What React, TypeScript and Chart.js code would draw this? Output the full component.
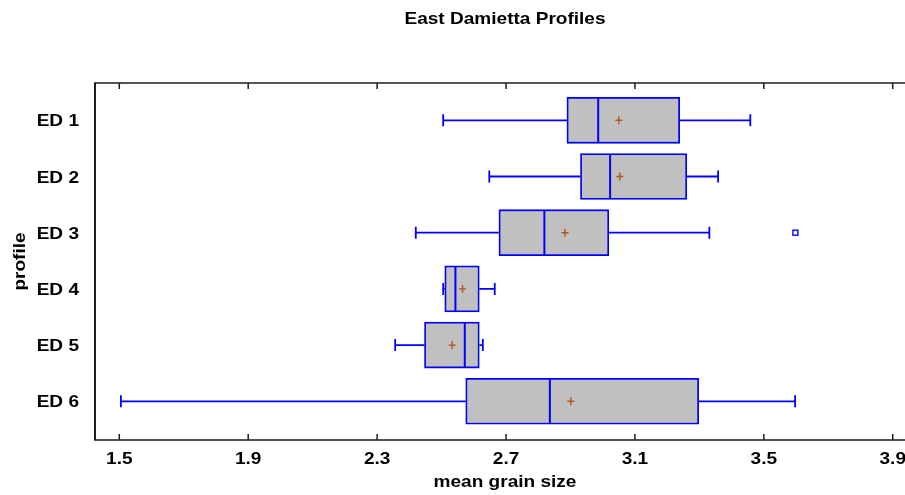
import React, { useEffect, useRef } from 'react';
import { Chart, registerables } from 'chart.js';

Chart.register(...registerables);

// ---------- data ----------
const chartTitle = 'East Damietta Profiles';
const xAxisTitle = 'mean grain size';
const yAxisTitle = 'profile';
const profiles = ['ED 1', 'ED 2', 'ED 3', 'ED 4', 'ED 5', 'ED 6'];
const whiskerLow = [2.505, 2.648, 2.42, 2.505, 2.356, 1.505];
const q1 = [2.889, 2.931, 2.678, 2.51, 2.447, 2.575];
const median = [2.986, 3.023, 2.819, 2.543, 2.572, 2.836];
const mean = [3.05, 3.053, 2.883, 2.565, 2.533, 2.901];
const q3 = [3.239, 3.261, 3.019, 2.617, 2.617, 3.298];
const whiskerHigh = [3.458, 3.358, 3.331, 2.665, 2.628, 3.597];
const outliers: number[][] = [[], [], [3.598], [], [], []];
const xTicks = [1.5, 1.9, 2.3, 2.7, 3.1, 3.5, 3.9];

// ---------- styles ----------
const BLUE = '#0000FF';
const BOX_FILL = '#C0C0C0';
const MEAN_COLOR = '#B0561E';
const AXIS_COLOR = '#1E1E1E';
const FONT = 'bold 17px "Liberation Sans", Arial, sans-serif';
const SX = 1.12;
const BOX_H = 46;

function stretchedText(ctx: CanvasRenderingContext2D, text: string, x: number, y: number, align: CanvasTextAlign) {
  ctx.save();
  ctx.translate(x, y);
  ctx.scale(SX, 1);
  ctx.textAlign = align;
  ctx.textBaseline = 'alphabetic';
  ctx.fillText(text, 0, 0);
  ctx.restore();
}

const boxPlugin = {
  id: 'boxExtras',
  beforeDatasetsDraw(chart: any) {
    const { ctx, scales } = chart;
    const x = scales.x, y = scales.y;
    ctx.save();
    ctx.strokeStyle = BLUE;
    ctx.lineWidth = 1.8;
    profiles.forEach((_, i) => {
      const yc = y.getPixelForValue(i + 1);
      const xl = x.getPixelForValue(whiskerLow[i]);
      const xa = x.getPixelForValue(q1[i]);
      const xb = x.getPixelForValue(q3[i]);
      const xh = x.getPixelForValue(whiskerHigh[i]);
      ctx.beginPath();
      ctx.moveTo(xl, yc); ctx.lineTo(xa, yc);
      ctx.moveTo(xb, yc); ctx.lineTo(xh, yc);
      ctx.moveTo(xl, yc - 6); ctx.lineTo(xl, yc + 6);
      ctx.moveTo(xh, yc - 6); ctx.lineTo(xh, yc + 6);
      ctx.stroke();
    });
    ctx.restore();
  },
  afterDatasetsDraw(chart: any) {
    const { ctx, scales } = chart;
    const x = scales.x, y = scales.y;
    ctx.save();
    profiles.forEach((_, i) => {
      const yc = y.getPixelForValue(i + 1);
      // median
      const xm = x.getPixelForValue(median[i]);
      ctx.strokeStyle = BLUE;
      ctx.lineWidth = 2;
      ctx.beginPath();
      ctx.moveTo(xm, yc - BOX_H / 2 + 1);
      ctx.lineTo(xm, yc + BOX_H / 2 - 1);
      ctx.stroke();
      // mean
      const xmean = x.getPixelForValue(mean[i]);
      ctx.strokeStyle = MEAN_COLOR;
      ctx.lineWidth = 1.4;
      ctx.beginPath();
      ctx.moveTo(xmean - 3.5, yc);
      ctx.lineTo(xmean + 3.5, yc);
      ctx.moveTo(xmean, yc - 4);
      ctx.lineTo(xmean, yc + 4);
      ctx.stroke();
      // outliers
      ctx.strokeStyle = BLUE;
      ctx.lineWidth = 1.4;
      outliers[i].forEach((v) => {
        const xo = x.getPixelForValue(v);
        ctx.strokeRect(xo - 2.5, yc - 2.5, 5, 5);
      });
    });
    ctx.restore();
  },
  afterDraw(chart: any) {
    const { ctx, scales, chartArea } = chart;
    const x = scales.x, y = scales.y;
    const { left, right, top, bottom } = chartArea;
    ctx.save();
    // frame
    ctx.strokeStyle = AXIS_COLOR;
    ctx.lineWidth = 2;
    ctx.beginPath();
    ctx.moveTo(left, top);
    ctx.lineTo(left, bottom);
    ctx.stroke();
    ctx.lineWidth = 1.5;
    ctx.beginPath();
    ctx.moveTo(left - 1, top);
    ctx.lineTo(right, top);
    ctx.moveTo(left - 1, bottom);
    ctx.lineTo(right, bottom);
    ctx.stroke();
    // x ticks (inward, top and bottom)
    ctx.lineWidth = 1.5;
    ctx.beginPath();
    xTicks.forEach((v) => {
      const px = x.getPixelForValue(v);
      ctx.moveTo(px, bottom);
      ctx.lineTo(px, bottom - 6);
      ctx.moveTo(px, top);
      ctx.lineTo(px, top + 6);
    });
    ctx.stroke();
    // labels
    ctx.fillStyle = '#000';
    ctx.font = FONT;
    xTicks.forEach((v) => {
      stretchedText(ctx, v.toFixed(1), x.getPixelForValue(v), bottom + 24, 'center');
    });
    profiles.forEach((p, i) => {
      stretchedText(ctx, p, left - 16, y.getPixelForValue(i + 1) + 6, 'right');
    });
    const cx = (left + 915) / 2;
    stretchedText(ctx, chartTitle, cx, 24, 'center');
    stretchedText(ctx, xAxisTitle, cx, 487, 'center');
    // y axis title (rotated)
    ctx.save();
    ctx.translate(25, (top + bottom) / 2);
    ctx.rotate(-Math.PI / 2);
    ctx.scale(SX, 1);
    ctx.textAlign = 'center';
    ctx.textBaseline = 'alphabetic';
    ctx.fillText(yAxisTitle, 0, 0);
    ctx.restore();
    ctx.restore();
  },
};

export default function App() {
  const canvasRef = useRef<HTMLCanvasElement | null>(null);

  useEffect(() => {
    document.body.style.margin = '0';
    const canvas = canvasRef.current;
    if (!canvas) return;
    const chart = new Chart(canvas, {
      type: 'bar',
      data: {
        datasets: [
          {
            data: profiles.map((_, i) => ({ x: [q1[i], q3[i]], y: i + 1 })) as any,
            backgroundColor: BOX_FILL,
            borderColor: BLUE,
            borderWidth: 1.8,
            borderSkipped: false,
            barThickness: BOX_H,
          },
        ],
      },
      options: {
        indexAxis: 'y',
        responsive: false,
        animation: false,
        layout: { padding: { left: 95, top: 83, right: 0, bottom: 55 } },
        scales: {
          x: { type: 'linear', min: 1.4246, max: 3.938, display: false, offset: false },
          y: { type: 'linear', min: 0.336, max: 6.689, reverse: true, display: false, offset: false },
        },
        plugins: {
          legend: { display: false },
          tooltip: { enabled: false },
          title: { display: false },
        },
      },
      plugins: [boxPlugin],
    });
    return () => chart.destroy();
  }, []);

  return <canvas ref={canvasRef} width={905} height={495} style={{ display: 'block' }} />;
}
